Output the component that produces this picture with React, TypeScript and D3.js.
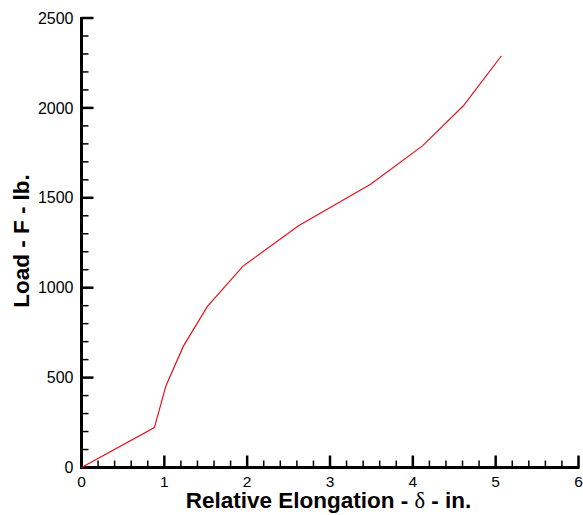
import React from "react";
import * as d3 from "d3";

const elongation = [0, 0.88, 1.02, 1.23, 1.52, 1.95, 2.62, 3.49, 4.12, 4.61, 5.07];
const load = [0, 222, 455, 675, 896, 1120, 1345, 1575, 1790, 2012, 2290];
const xTicks = [0, 1, 2, 3, 4, 5, 6];
const yTicks = [0, 500, 1000, 1500, 2000, 2500];

export default function App() {
  const W = 583, H = 515;
  const x = d3.scaleLinear().domain([0, 6]).range([81.5, 578.5]);
  const y = d3.scaleLinear().domain([0, 2500]).range([467.5, 18]);
  const line = d3.line<number>().x((_, i) => x(elongation[i])).y((d) => y(d));
  const xMinor = d3.range(0, 6.0001, 0.2).filter((v) => Math.abs(v - Math.round(v)) > 1e-6);
  const yMinor = d3.range(0, 2500.1, 100).filter((v) => v % 500 !== 0);
  const font = "Liberation Sans, Arial, sans-serif";
  return (
    <svg width={W} height={H} style={{ position: "absolute", left: 0, top: 0 }}>
      <rect width={W} height={H} fill="#fff" />
      {yMinor.map((v) => (
        <line key={"ym" + v} x1={x(0)} x2={x(0) + 7} y1={y(v)} y2={y(v)} stroke="#000" strokeWidth={1.5} />
      ))}
      {yTicks.map((v) => (
        <line key={"yM" + v} x1={x(0)} x2={x(0) + 12} y1={y(v)} y2={y(v)} stroke="#000" strokeWidth={2.5} />
      ))}
      {xMinor.map((v) => (
        <line key={"xm" + v} x1={x(v)} x2={x(v)} y1={y(0)} y2={y(0) - 7} stroke="#000" strokeWidth={1.5} />
      ))}
      {xTicks.map((v) => (
        <line key={"xM" + v} x1={x(v)} x2={x(v)} y1={y(0)} y2={y(0) - 12} stroke="#000" strokeWidth={2.5} />
      ))}
      <line x1={x(0)} x2={x(0)} y1={y(2500) - 1} y2={y(0) + 1.5} stroke="#000" strokeWidth={3} />
      <line x1={x(0) - 1.5} x2={x(6) + 1} y1={y(0)} y2={y(0)} stroke="#000" strokeWidth={3} />
      <path d={line(load) || ""} fill="none" stroke="#e8101c" strokeWidth={1.2} />
      {yTicks.map((v) => (
        <text key={"yl" + v} x={x(0) - 8} y={y(v)} dy="0.35em" textAnchor="end" fontFamily={font} fontSize={16}>
          {v}
        </text>
      ))}
      {xTicks.map((v) => (
        <text key={"xl" + v} x={x(v)} y={486.5} textAnchor="middle" fontFamily={font} fontSize={15.5}>
          {v}
        </text>
      ))}
      <text x={328.5} y={508} textAnchor="middle" fontFamily={font} fontSize={22.5} fontWeight="bold">
        Relative Elongation - <tspan fontFamily="Liberation Serif, Times New Roman, serif" fontWeight="normal">δ</tspan> - in.
      </text>
      <text
        transform={`translate(29,${241}) rotate(-90)`}
        textAnchor="middle"
        fontFamily={font}
        fontSize={22.5}
        fontWeight="bold"
      >
        Load - F - lb.
      </text>
    </svg>
  );
}
